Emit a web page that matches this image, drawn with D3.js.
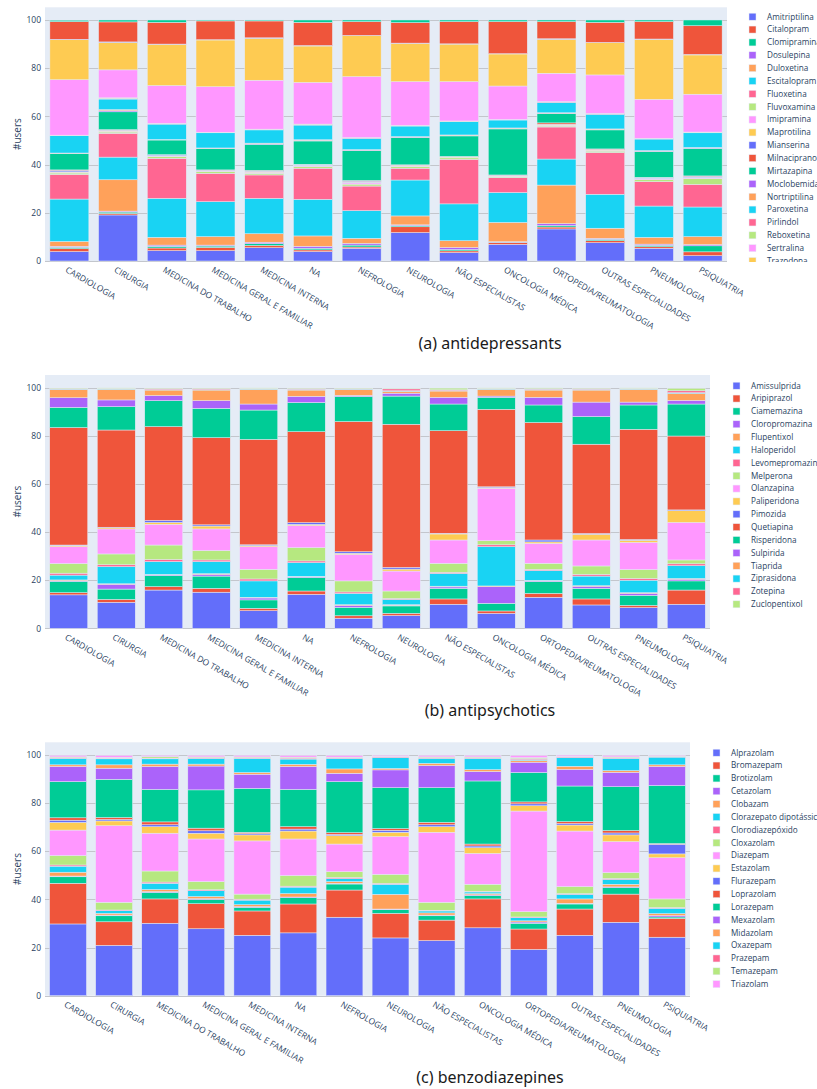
<!DOCTYPE html>
<html>
<head>
<meta charset="utf-8">
<script src="https://cdn.jsdelivr.net/npm/d3@7"></script>
<style>
  body { margin: 0; background: #fff; }
  svg { display: block; font-family: "Open Sans", sans-serif; }
</style>
</head>
<body>
<svg id="fig" width="817" height="1089"></svg>
<script>
// shared categories (x axis) and plotly default colour cycle
var categories = ["CARDIOLOGIA", "CIRURGIA", "MEDICINA DO TRABALHO", "MEDICINA GERAL E FAMILIAR",
  "MEDICINA INTERNA", "NA", "NEFROLOGIA", "NEUROLOGIA", "NÃO ESPECIALISTAS", "ONCOLOGIA MÉDICA",
  "ORTOPEDIA/REUMATOLOGIA", "OUTRAS ESPECIALIDADES", "PNEUMOLOGIA", "PSIQUIATRIA"];
var palette = ["#636EFA", "#EF553B", "#00CC96", "#AB63FA", "#FFA15A", "#19D3F3", "#FF6692", "#B6E880", "#FF97FF", "#FECB52"];
var yTicks = [0, 20, 40, 60, 80, 100];

// (a) antidepressants: one row per drug, one value (% of users) per category
var antidepNames = ["Amitriptilina", "Citalopram", "Clomipramina", "Dosulepina", "Duloxetina", "Escitalopram",
  "Fluoxetina", "Fluvoxamina", "Imipramina", "Maprotilina", "Mianserina", "Milnaciprano", "Mirtazapina",
  "Moclobemida", "Nortriptilina", "Paroxetina", "Pirlindol", "Reboxetina", "Sertralina", "Trazodona",
  "Trimipramina", "Venlafaxina", "Vortioxetina"];
var antidepValues = [
  [3.9, 19.1, 4.3, 4.3, 5.5, 3.9, 5.3, 11.8, 3.5, 6.9, 13.3, 7.6, 5.3, 2.2],
  [1.2, 0.6, 1.1, 1.3, 0.9, 0.7, 0.5, 2.4, 0.7, 0.7, 0.8, 0.8, 0.6, 1.6],
  [0.6, 0.6, 0.7, 0.6, 0.8, 0.7, 0.8, 0.5, 0.6, 0.2, 0.6, 0.6, 0.6, 2.5],
  [0.4, 0.4, 0.5, 0.4, 0.6, 0.8, 0.7, 0.3, 0.8, 0.2, 0.8, 0.4, 0.5, 0.5],
  [2.0, 13.0, 3.2, 3.5, 3.5, 4.3, 2.1, 3.7, 2.8, 8.0, 16.0, 4.2, 2.8, 3.3],
  [17.6, 9.4, 16.2, 14.5, 14.7, 15.2, 11.5, 14.9, 15.3, 12.4, 10.8, 14.1, 13.0, 12.3],
  [10.2, 9.9, 16.6, 11.8, 9.7, 12.9, 10.2, 4.9, 18.5, 6.2, 13.3, 17.3, 10.1, 9.4],
  [0.6, 0.5, 0.8, 0.8, 0.7, 0.7, 0.8, 0.7, 0.6, 0.3, 0.4, 0.6, 0.9, 2.4],
  [0.3, 0.3, 0.2, 0.2, 0.4, 0.3, 0.5, 0.2, 0.2, 0.3, 0.3, 0.3, 0.3, 0.3],
  [0.2, 0.2, 0.1, 0.1, 0.2, 0.2, 0.3, 0.1, 0.2, 0.2, 0.2, 0.2, 0.2, 0.2],
  [0.6, 0.3, 0.3, 0.2, 0.3, 0.2, 0.4, 0.2, 0.1, 0.2, 0.2, 0.2, 0.2, 0.4],
  [0.2, 0.2, 0.1, 0.1, 0.3, 0.2, 0.3, 0.2, 0.1, 0.1, 0.6, 0.2, 0.2, 0.2],
  [6.8, 7.4, 6.1, 8.9, 10.8, 9.7, 12.4, 11.3, 8.5, 19.1, 3.8, 7.9, 10.7, 11.4],
  [0.1, 0.5, 0.1, 0.1, 0.3, 0.3, 0.2, 0.2, 0.2, 0.2, 0.2, 0.2, 0.2, 0.2],
  [0.1, 0.4, 0.1, 0.1, 0.2, 0.2, 0.2, 0.2, 0.2, 0.2, 0.2, 0.2, 0.2, 0.2],
  [7.2, 4.4, 6.4, 6.3, 5.5, 6.1, 4.7, 4.4, 5.5, 3.3, 4.3, 6.1, 4.8, 6.1],
  [0.1, 0.3, 0.2, 0.1, 0.2, 0.2, 0.2, 0.2, 0.2, 0.1, 0.2, 0.2, 0.2, 0.2],
  [0.1, 0.2, 0.1, 0.1, 0.1, 0.2, 0.1, 0.1, 0.1, 0.1, 0.1, 0.1, 0.1, 0.1],
  [23.0, 11.6, 15.7, 18.9, 20.3, 17.3, 25.3, 18.1, 16.3, 13.9, 11.8, 16.0, 16.2, 15.7],
  [16.6, 11.4, 17.1, 19.4, 17.4, 15.1, 17.0, 15.9, 15.6, 13.3, 14.1, 13.4, 24.9, 16.3],
  [0.2, 0.2, 0.1, 0.1, 0.2, 0.2, 0.1, 0.1, 0.1, 0.1, 0.2, 0.1, 0.1, 0.2],
  [7.3, 8.3, 9.0, 7.8, 7.0, 9.6, 5.7, 8.5, 9.2, 13.3, 7.1, 8.3, 7.2, 11.9],
  [0.6, 0.8, 1.0, 0.4, 0.4, 1.0, 0.7, 1.1, 0.7, 0.7, 0.7, 1.0, 0.7, 2.4]
];

// (b) antipsychotics
var antipsyNames = ["Amissulprida", "Aripiprazol", "Ciamemazina", "Cloropromazina", "Flupentixol", "Haloperidol",
  "Levomepromazina", "Melperona", "Olanzapina", "Paliperidona", "Pimozida", "Quetiapina", "Risperidona",
  "Sulpirida", "Tiaprida", "Ziprasidona", "Zotepina", "Zuclopentixol"];
var antipsyValues = [
  [13.9, 10.8, 15.9, 15.0, 7.3, 14.1, 4.2, 5.3, 10.0, 6.2, 12.9, 9.7, 8.6, 10.0],
  [0.9, 1.2, 1.4, 1.6, 1.0, 1.4, 1.0, 0.9, 2.2, 1.0, 1.6, 2.5, 0.9, 5.9],
  [4.7, 4.3, 4.6, 5.1, 3.5, 5.6, 3.5, 3.1, 4.4, 3.2, 4.9, 4.4, 4.2, 3.8],
  [0.3, 2.0, 0.3, 0.7, 0.8, 0.3, 0.8, 0.3, 0.6, 6.9, 0.3, 0.8, 0.8, 0.7],
  [0.3, 0.2, 0.2, 0.3, 0.3, 0.2, 0.3, 0.2, 0.3, 0.3, 0.2, 0.3, 0.3, 0.3],
  [2.0, 7.1, 5.3, 5.0, 6.8, 5.7, 4.7, 2.2, 5.3, 16.3, 4.1, 4.0, 5.2, 5.3],
  [0.8, 0.8, 0.9, 0.7, 0.8, 0.7, 0.6, 0.4, 0.5, 0.8, 0.5, 0.7, 0.7, 0.8],
  [4.0, 4.5, 6.0, 3.9, 4.0, 5.5, 4.6, 3.1, 3.7, 1.7, 2.5, 3.5, 3.7, 1.6],
  [7.0, 10.4, 8.6, 9.0, 9.4, 9.2, 11.0, 8.3, 9.7, 21.8, 8.3, 10.8, 11.3, 15.6],
  [0.4, 0.5, 0.8, 1.2, 0.5, 0.5, 0.5, 0.8, 2.5, 0.3, 0.6, 2.4, 0.9, 4.9],
  [0.3, 0.2, 0.8, 0.5, 0.3, 0.7, 0.6, 0.7, 0.3, 0.3, 0.8, 0.3, 0.3, 0.3],
  [48.8, 40.4, 39.0, 36.2, 43.8, 37.8, 54.1, 59.5, 42.6, 32.2, 48.8, 37.1, 45.8, 30.7],
  [8.4, 9.7, 10.8, 12.2, 12.2, 12.1, 10.4, 11.7, 11.1, 5.0, 7.3, 11.5, 10.1, 13.3],
  [4.0, 2.8, 2.1, 3.2, 2.5, 2.6, 0.5, 1.2, 2.8, 0.5, 3.2, 6.0, 1.2, 1.5],
  [3.4, 4.4, 2.3, 4.4, 6.1, 2.6, 2.4, 0.8, 2.6, 2.8, 3.0, 5.0, 5.3, 2.9],
  [0.2, 0.2, 0.2, 0.2, 0.2, 0.3, 0.2, 0.2, 0.2, 0.2, 0.3, 0.3, 0.2, 0.3],
  [0.2, 0.2, 0.4, 0.4, 0.2, 0.3, 0.2, 0.8, 0.3, 0.2, 0.3, 0.3, 0.2, 0.8],
  [0.2, 0.2, 0.2, 0.2, 0.2, 0.2, 0.2, 0.3, 0.7, 0.2, 0.3, 0.2, 0.2, 1.0]
];

// (c) benzodiazepines
var benzoNames = ["Alprazolam", "Bromazepam", "Brotizolam", "Cetazolam", "Clobazam", "Clorazepato dipotássico",
  "Clorodiazepóxido", "Cloxazolam", "Diazepam", "Estazolam", "Flurazepam", "Loprazolam", "Lorazepam",
  "Mexazolam", "Midazolam", "Oxazepam", "Prazepam", "Temazepam", "Triazolam"];
var benzoValues = [
  [29.8, 20.9, 30.1, 27.8, 25.1, 26.1, 32.6, 24.0, 22.9, 28.2, 19.2, 25.1, 30.5, 24.3],
  [16.9, 9.8, 10.1, 10.4, 10.1, 12.0, 11.3, 10.2, 8.5, 12.0, 8.5, 10.9, 11.7, 7.8],
  [2.7, 2.5, 2.7, 1.8, 1.5, 2.6, 2.5, 1.5, 1.8, 1.4, 2.4, 2.1, 2.7, 0.6],
  [0.3, 0.3, 0.3, 0.3, 0.3, 0.3, 0.3, 0.3, 0.3, 0.3, 0.5, 0.3, 0.3, 0.6],
  [1.6, 0.7, 0.9, 0.9, 0.8, 1.4, 0.7, 6.1, 0.9, 0.5, 0.5, 1.8, 1.1, 0.8],
  [2.5, 1.1, 2.6, 2.4, 1.9, 2.7, 1.2, 4.2, 0.8, 0.7, 1.3, 1.9, 2.0, 2.2],
  [0.5, 0.3, 0.5, 0.4, 0.4, 0.4, 0.5, 0.4, 0.3, 0.3, 0.3, 0.3, 0.4, 0.3],
  [3.9, 3.2, 4.6, 3.4, 2.1, 4.4, 2.4, 3.7, 3.3, 2.9, 2.2, 2.9, 2.4, 3.6],
  [10.6, 31.8, 15.7, 17.7, 22.1, 15.2, 11.5, 15.7, 29.1, 12.8, 41.8, 23.1, 12.9, 17.1],
  [3.2, 2.0, 2.7, 2.4, 2.5, 3.3, 3.5, 1.8, 2.3, 2.4, 2.2, 2.5, 2.8, 1.6],
  [0.9, 0.6, 0.8, 1.0, 0.5, 0.8, 0.5, 0.8, 0.8, 0.7, 0.8, 0.6, 0.8, 4.0],
  [1.0, 0.8, 1.2, 1.1, 0.6, 1.0, 0.7, 0.7, 1.0, 0.8, 0.8, 0.8, 1.0, 0.3],
  [15.0, 15.9, 13.5, 15.9, 18.2, 15.5, 21.2, 17.0, 14.4, 26.2, 12.2, 14.8, 18.2, 24.1],
  [6.3, 4.6, 9.5, 9.9, 5.9, 9.5, 3.5, 7.4, 9.2, 3.9, 4.3, 6.9, 6.0, 7.9],
  [0.7, 1.4, 1.0, 0.8, 0.7, 0.9, 1.8, 0.6, 0.9, 0.8, 0.7, 1.3, 0.7, 0.7],
  [2.7, 2.5, 2.2, 2.4, 5.9, 2.2, 4.4, 4.5, 2.1, 4.7, 0.4, 3.6, 5.1, 3.2],
  [0.3, 0.3, 0.3, 0.3, 0.3, 0.4, 0.3, 0.3, 0.3, 0.3, 0.4, 0.3, 0.3, 0.2],
  [0.3, 0.3, 0.6, 0.3, 0.3, 0.4, 0.2, 0.2, 0.3, 0.3, 0.4, 0.2, 0.3, 0.2],
  [0.6, 0.8, 0.5, 0.6, 0.6, 0.7, 0.7, 0.4, 0.6, 0.6, 0.9, 0.5, 0.6, 0.3]
];

var svg = d3.select("#fig");
var defs = svg.append("defs");
var tickColor = "#2a3f5f";

function drawPanel(p) {
  var g = svg.append("g");
  var x = d3.scaleBand().domain(categories).range([p.left, p.right]).paddingInner(0.2).paddingOuter(0.1);
  var y = d3.scaleLinear().domain([0, 105.26]).range([p.bottom, p.top]);

  g.append("rect")
    .attr("x", p.left).attr("y", p.top)
    .attr("width", p.right - p.left).attr("height", p.bottom - p.top)
    .attr("fill", "#E5ECF6");

  g.selectAll("line.grid")
    .data(yTicks)
    .join("line")
    .attr("class", "grid")
    .attr("x1", p.left).attr("x2", p.right)
    .attr("y1", function (d) { return Math.round(y(d)) + 0.5; })
    .attr("y2", function (d) { return Math.round(y(d)) + 0.5; })
    .attr("stroke", "#c3c6cc")
    .attr("stroke-width", 1);

  // table: one row per category, one column per drug
  var rows = categories.map(function (c, j) {
    var o = { cat: c };
    p.names.forEach(function (n, i) { o[n] = p.values[i][j]; });
    return o;
  });
  var stacked = d3.stack().keys(p.names)(rows);

  g.selectAll("g.series")
    .data(stacked)
    .join("g")
    .attr("class", "series")
    .attr("fill", function (d, i) { return palette[i % palette.length]; })
    .selectAll("rect")
    .data(function (d) { return d; })
    .join("rect")
    .attr("x", function (d) { return x(d.data.cat); })
    .attr("y", function (d) { return y(d[1]); })
    .attr("width", x.bandwidth())
    .attr("height", function (d) { return Math.max(0, y(d[0]) - y(d[1])); })
    .attr("stroke", "#E5ECF6")
    .attr("stroke-width", 0.5);

  var yAxis = g.append("g")
    .attr("transform", "translate(" + p.left + ",0)")
    .call(d3.axisLeft(y).tickValues(yTicks).tickSize(0).tickPadding(4));
  yAxis.select(".domain").remove();
  yAxis.selectAll("text")
    .attr("fill", tickColor)
    .style("font-size", "8.5px")
    .style("font-family", "'Open Sans', sans-serif");

  var xAxis = g.append("g")
    .attr("transform", "translate(0," + p.bottom + ")")
    .call(d3.axisBottom(x).tickSize(0));
  xAxis.select(".domain").remove();
  xAxis.selectAll("text")
    .attr("x", 0).attr("y", 0).attr("dy", "0.35em")
    .attr("text-anchor", "start")
    .attr("transform", "translate(-3,8) rotate(30)")
    .attr("fill", tickColor)
    .style("font-size", "8.5px")
    .style("font-family", "'Open Sans', sans-serif");

  g.append("text")
    .attr("transform", "translate(17," + (p.top + p.bottom) / 2 + ") rotate(-90)")
    .attr("text-anchor", "middle")
    .attr("dy", "0.35em")
    .attr("fill", tickColor)
    .style("font-size", "10px")
    .text("#users");

  // legend, clipped where the figure cuts it off
  var clipId = "clip-" + p.id;
  defs.append("clipPath").attr("id", clipId)
    .append("rect")
    .attr("x", p.legendX - 10).attr("y", p.top - 5)
    .attr("width", 817 - p.legendX + 10).attr("height", p.legendBottom - p.top + 5);
  var leg = g.append("g").attr("clip-path", "url(#" + clipId + ")");
  var item = leg.selectAll("g.item")
    .data(p.names)
    .join("g")
    .attr("class", "item")
    .attr("transform", function (d, i) { return "translate(" + p.legendX + "," + (p.legendY + i * 12.86) + ")"; });
  item.append("rect")
    .attr("x", 0).attr("y", -3.5)
    .attr("width", 7).attr("height", 7)
    .attr("fill", function (d, i) { return palette[i % palette.length]; })
    .attr("stroke", "#E5ECF6").attr("stroke-width", 0.5);
  item.append("text")
    .attr("x", 18).attr("dy", "0.35em")
    .attr("fill", tickColor)
    .style("font-size", "8.2px")
    .text(function (d) { return d; });

  svg.append("text")
    .attr("x", 490).attr("y", p.captionY)
    .attr("text-anchor", "middle")
    .attr("dy", "0.35em")
    .attr("fill", "#1a1a1a")
    .style("font-family", "'Noto Sans', sans-serif")
    .style("font-size", "16px")
    .text(p.caption);
}

drawPanel({ id: "a", names: antidepNames, values: antidepValues, left: 45, right: 727, top: 7.3, bottom: 261,
  legendX: 749, legendY: 16.7, legendBottom: 262, captionY: 343, caption: "(a) antidepressants" });
drawPanel({ id: "b", names: antipsyNames, values: antipsyValues, left: 45, right: 710, top: 375, bottom: 628.3,
  legendX: 733, legendY: 385.7, legendBottom: 640, captionY: 710, caption: "(b) antipsychotics" });
drawPanel({ id: "c", names: benzoNames, values: benzoValues, left: 45, right: 690, top: 742.3, bottom: 995.7,
  legendX: 713, legendY: 752.7, legendBottom: 1000, captionY: 1077, caption: "(c) benzodiazepines" });
</script>
</body>
</html>
